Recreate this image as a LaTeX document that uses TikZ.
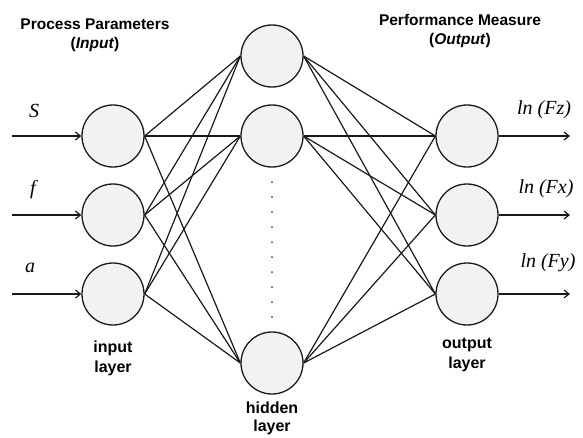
\documentclass[tikz,border=0pt]{standalone}
\usepackage{fontspec}
\setmainfont{Liberation Serif}
\setsansfont{Liberation Sans}
\usetikzlibrary{arrows.meta}
\begin{document}
\begin{tikzpicture}[x=1pt,y=-1pt,
  neuron/.style={circle,draw=black!90,line width=1.3pt,fill=black!5,minimum size=62pt,inner sep=0pt},
  conn/.style={line width=1.2pt,draw=black!90},
  io/.style={line width=1.2pt,draw=black!90,-{Straight Barb[length=5pt,width=8pt]}},
  var/.style={font=\fontsize{20}{22}\selectfont\itshape},
  ttl/.style={font=\sffamily\bfseries\fontsize{15.5}{19}\selectfont,align=center},
  lbl/.style={font=\sffamily\bfseries\fontsize{16}{20}\selectfont,align=center}]
\useasboundingbox (0,0) rectangle (583,437);
% nodes
\node[neuron] (i1) at (113,136) {};
\node[neuron] (i2) at (113,215) {};
\node[neuron] (i3) at (113,294) {};
\node[neuron] (h1) at (272,56) {};
\node[neuron] (h2) at (272,136) {};
\node[neuron] (h3) at (272,363) {};
\node[neuron] (o1) at (467,136) {};
\node[neuron] (o2) at (467,215) {};
\node[neuron] (o3) at (467,294) {};
% connections
\foreach \i in {i1,i2,i3}
  \foreach \h in {h1,h2,h3}
    \draw[conn] (\i.east) -- (\h.west);
\foreach \h in {h1,h2,h3}
  \foreach \o in {o1,o2,o3}
    \draw[conn] (\h.east) -- (\o.west);
% dots
\foreach \k in {0,...,9}
  \fill[black!75] (272,182+\k*15) circle (1pt);
% inputs
\coordinate (s1) at (12,136);
\coordinate (s2) at (12,215);
\coordinate (s3) at (12,294);
\draw[io] (s1) -- (i1.west);
\draw[io] (s2) -- (i2.west);
\draw[io] (s3) -- (i3.west);
\coordinate (e1) at (570,136);
\coordinate (e2) at (570,215);
\coordinate (e3) at (570,294);
\draw[io] (o1.east) -- (e1);
\draw[io] (o2.east) -- (e2);
\draw[io] (o3.east) -- (e3);
% labels
\node[var] (lS) at (34,111) {S};
\node[var] (lf) at (33,190) {f};
\node[var] (la) at (30,268) {a};
\node[var] (lz) at (544,110) {ln (Fz)};
\node[var] (lx) at (546,189) {ln (Fx)};
\node[var] (ly) at (548,263) {ln (Fy)};
\node[ttl] (t1) at (95,35) {Process Parameters\\(\textit{Input})};
\node[ttl] (t2) at (460,31) {Performance Measure\\(\textit{Output})};
\node[lbl] (l1) at (113,358) {input\\layer};
\node[lbl,font=\sffamily\bfseries\fontsize{16}{18}\selectfont] (l2) at (272,418) {hidden\\layer};
\node[lbl] (l3) at (467,355) {output\\layer};
\end{tikzpicture}
\end{document}
